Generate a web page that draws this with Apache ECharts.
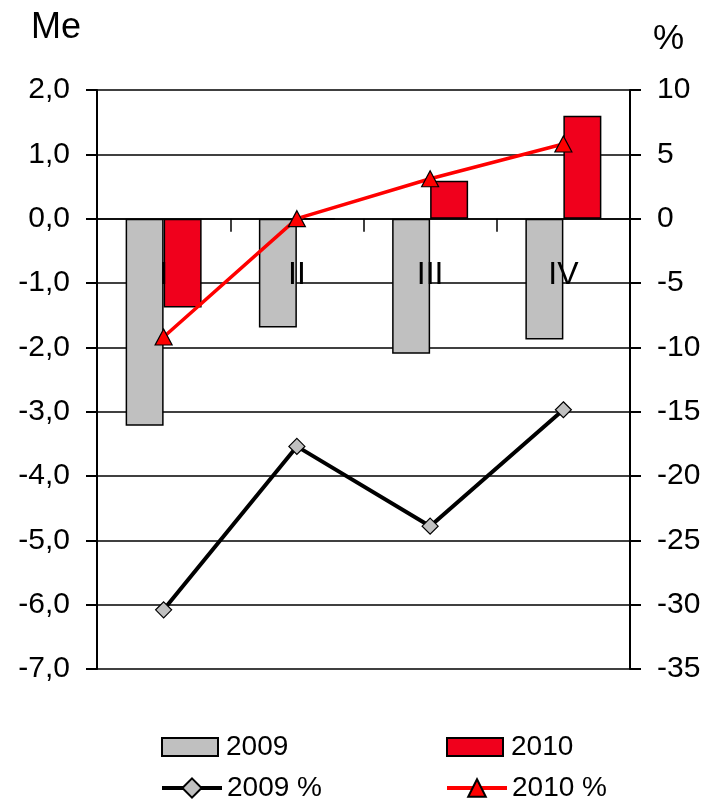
<!DOCTYPE html>
<html>
<head>
<meta charset="utf-8">
<script src="https://cdn.jsdelivr.net/npm/echarts@6/dist/echarts.min.js"></script>
<style>
html,body{margin:0;padding:0;background:#fff;}
#chart{width:708px;height:801px;}
</style>
</head>
<body>
<div id="chart"></div>
<script>
const categories = ['I', 'II', 'III', 'IV'];
const bars2009 = [-3.22, -1.69, -2.1, -1.88];
const bars2010 = [-1.38, 0, 0.59, 1.6];
const pct2009 = [-30.4, -17.7, -23.9, -14.85];
const pct2010 = [-9.2, 0, 3.1, 5.8];
const seriesNames = ['2009', '2010', '2009 %', '2010 %'];
const leftAxisTitle = 'Me';
const rightAxisTitle = '%';

const FONT = 'Liberation Sans, Arial, sans-serif';
const chart = echarts.init(document.getElementById('chart'), null, {renderer: 'canvas'});

const GRID = {left: 97, right: 78, top: 90, bottom: 132};
const leftMin = -7, leftMax = 2;
// distance from plot bottom to the zero line, so category labels sit under the zero axis
const zeroOffset = (0 - leftMin) / (leftMax - leftMin) * (801 - GRID.top - GRID.bottom);

function legendAt(item, left, top, extra, textPad) {
  return Object.assign({
    data: [item],
    left: left, top: top,
    orient: 'horizontal',
    itemWidth: 56, itemHeight: 18,
    padding: 0,
    textStyle: {fontFamily: FONT, fontSize: 28, color: '#000', padding: [0, 0, 0, textPad]},
    selectedMode: false
  }, extra || {});
}

chart.setOption({
  animation: false,
  backgroundColor: '#fff',
  textStyle: {fontFamily: FONT},
  grid: Object.assign({containLabel: false}, GRID),
  graphic: [
    {type: 'text', left: 31, top: 10, style: {text: leftAxisTitle, font: '36px ' + FONT, fill: '#000'}},
    {type: 'text', left: 653, top: 22, style: {text: rightAxisTitle, font: '35px ' + FONT, fill: '#000'}}
  ],
  legend: [
    legendAt({name: seriesNames[0], icon: 'rect'}, 161, 733, null, 3),
    legendAt({name: seriesNames[1], icon: 'rect'}, 446, 733, null, 3),
    legendAt({name: seriesNames[2], lineStyle: {width: 4}}, 160, 774, {itemWidth: 60, itemHeight: 24}, 0),
    legendAt({name: seriesNames[3], lineStyle: {width: 4}}, 445, 774, {itemWidth: 60, itemHeight: 22}, 0)
  ],
  xAxis: [
    {
      type: 'category',
      data: categories,
      z: 10,
      axisLine: {onZero: true, onZeroAxisIndex: 0, lineStyle: {color: '#000', width: 1.5}},
      axisTick: {show: true, inside: false, length: 13, alignWithLabel: false, lineStyle: {color: '#000', width: 1.5}},
      axisLabel: {show: false},
      splitLine: {show: false}
    },
    {
      type: 'category',
      data: categories,
      position: 'bottom',
      offset: -zeroOffset,
      z: 10,
      axisLine: {show: false, onZero: false},
      axisTick: {show: false},
      axisLabel: {show: true, fontFamily: FONT, fontSize: 32, color: '#000', margin: 41},
      splitLine: {show: false}
    }
  ],
  yAxis: [
    {
      type: 'value', min: leftMin, max: leftMax, interval: 1,
      axisLine: {show: true, lineStyle: {color: '#000', width: 2}},
      axisTick: {show: true, inside: false, length: 11, lineStyle: {color: '#000', width: 2}},
      axisLabel: {fontFamily: FONT, fontSize: 30, color: '#000', margin: 27,
        formatter: v => v.toFixed(1).replace('.', ',')},
      splitLine: {show: true, lineStyle: {color: '#000', width: 1.5}}
    },
    {
      type: 'value', min: -35, max: 10, interval: 5, position: 'right',
      axisLine: {show: true, lineStyle: {color: '#000', width: 2}},
      axisTick: {show: true, inside: false, length: 11, lineStyle: {color: '#000', width: 2}},
      axisLabel: {fontFamily: FONT, fontSize: 30, color: '#000', margin: 27},
      splitLine: {show: false}
    }
  ],
  series: [
    {
      name: seriesNames[0], type: 'bar', data: bars2009, yAxisIndex: 0, xAxisIndex: 0,
      barWidth: 38, barGap: '0%',
      itemStyle: {color: '#c0c0c0', borderColor: '#000', borderWidth: 1.5}
    },
    {
      name: seriesNames[1], type: 'bar', data: bars2010, yAxisIndex: 0, xAxisIndex: 0,
      barWidth: 38, barGap: '0%',
      itemStyle: {color: '#f0001c', borderColor: '#000', borderWidth: 1.5}
    },
    {
      name: seriesNames[2], type: 'line', data: pct2009, yAxisIndex: 1, xAxisIndex: 0, z: 12,
      symbol: 'diamond', symbolSize: 16, showAllSymbol: true,
      lineStyle: {color: '#000', width: 4},
      itemStyle: {color: '#c0c0c0', borderColor: '#000', borderWidth: 1.2}
    },
    {
      name: seriesNames[3], type: 'line', data: pct2010, yAxisIndex: 1, xAxisIndex: 0, z: 12,
      symbol: 'triangle', symbolSize: [17, 16], showAllSymbol: true,
      lineStyle: {color: '#ff0000', width: 3.5},
      itemStyle: {color: '#ff0000', borderColor: '#000', borderWidth: 1.2}
    }
  ]
});
</script>
</body>
</html>
